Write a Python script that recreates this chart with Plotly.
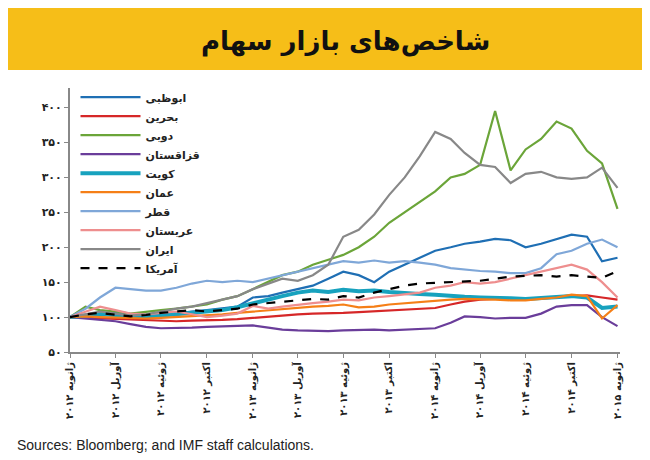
import plotly.graph_objects as go
import pandas as pd

dates = pd.date_range("2012-01-01", "2015-01-01", freq="MS")

abudhabi = [100,103,105,106,104,102,103,105,108,110,112,115,128,130,135,140,145,155,165,160,150,165,175,185,195,200,205,208,212,210,200,205,212,218,215,180,185]
bahrain = [100,99,98,97,96,95,94,94,95,95,96,97,99,100,102,104,105,105,106,107,108,110,111,112,113,118,122,125,126,127,126,127,128,130,131,128,125]
dubai = [100,115,110,108,105,108,110,112,115,118,125,130,140,150,160,165,175,182,189,200,215,235,250,265,280,300,305,318,395,310,340,355,380,370,338,320,255]
kazakh = [100,98,96,94,90,86,84,84,85,86,87,88,88,85,82,81,80,80,81,82,82,81,82,84,84,92,101,100,98,99,99,105,115,117,117,100,87]
kuwait = [100,102,104,103,100,100,102,104,106,108,110,114,120,125,130,135,138,136,139,137,138,136,134,133,132,130,129,128,128,127,126,127,128,130,128,113,115]
oman = [100,101,100,99,98,98,99,100,102,103,104,106,108,110,112,113,115,116,118,114,115,118,120,122,123,125,126,126,125,124,124,126,128,132,130,98,117]
qatar = [100,112,128,142,140,138,138,142,148,152,150,152,150,155,160,165,170,175,180,178,181,178,180,178,175,170,168,166,165,163,163,170,190,195,205,211,200]
saudi = [100,108,115,110,105,104,106,108,104,100,102,105,116,112,115,118,120,122,125,124,128,130,132,135,142,145,150,148,150,155,160,165,170,175,168,150,128]
iran = [100,104,108,105,102,104,108,112,115,120,125,130,140,148,155,152,160,175,215,225,247,275,300,330,365,355,335,318,315,292,305,308,300,298,300,314,285]
usa = [100,104,106,104,101,103,106,108,110,108,110,112,118,120,122,124,126,125,130,128,135,140,145,148,149,150,150,152,155,158,159,160,158,160,158,156,166]

series = [
    ("ابوظبی", abudhabi, "#1F6FB4", 2.2, "solid"),
    ("بحرین", bahrain, "#D62728", 2.2, "solid"),
    ("دوبی", dubai, "#6BA539", 2.2, "solid"),
    ("قزاقستان", kazakh, "#6A3D9A", 2.2, "solid"),
    ("کویت", kuwait, "#17A2BE", 4, "solid"),
    ("عمان", oman, "#F57F17", 2.2, "solid"),
    ("قطر", qatar, "#7FA7D8", 2.2, "solid"),
    ("عربستان", saudi, "#EE8E8E", 2.2, "solid"),
    ("ایران", iran, "#888888", 2.2, "solid"),
    ("آمریکا", usa, "#000000", 2.2, "dash"),
]

fa = str.maketrans("0123456789", "۰۱۲۳۴۵۶۷۸۹")
months = {1: "ژانویه", 4: "آوریل", 7: "ژوئیه", 10: "اکتبر"}
tickdates = [d for d in dates if d.month in months]
ticktext = [f"<b>{months[d.month]} {str(d.year).translate(fa)}</b>" for d in tickdates]
yvals = [50, 100, 150, 200, 250, 300, 350, 400]
ytext = [f"<b>{str(v).translate(fa)}</b>" for v in yvals]

fig = go.Figure()
for name, vals, col, w, dash in series:
    fig.add_trace(go.Scatter(x=dates, y=vals, name=f"<b>{name}</b>", mode="lines",
                             line=dict(color=col, width=w, dash=dash)))

fig.add_shape(type="rect", xref="paper", yref="paper", x0=-0.2, x1=1.2, y0=(460 - 62 - 116) / 264, y1=1.4,
              fillcolor="#F6BE18", line=dict(width=0), layer="below")
fig.add_annotation(text="<b>شاخص‌های بازار سهام</b>", xref="paper", yref="paper",
                   x=0.5, y=(460 - 33 - 116) / 264, yanchor="middle", showarrow=False,
                   font=dict(size=26, color="#111", family="DejaVu Sans"))
fig.add_annotation(text="Sources: Bloomberg; and IMF staff calculations.", xref="paper", yref="paper",
                   x=-0.1, xanchor="left", y=-0.39, showarrow=False, font=dict(size=14, color="#222", family="Liberation Sans"))

fig.update_layout(
    width=650, height=460, margin=dict(l=62, r=38, t=80, b=116, autoexpand=False),
    paper_bgcolor="white", plot_bgcolor="white", font=dict(family="DejaVu Sans", color="#222"),
    showlegend=True,
    legend=dict(x=0.01, y=1.02, xanchor="left", yanchor="top", bgcolor="rgba(0,0,0,0)",
                font=dict(size=11), tracegroupgap=0, itemwidth=60),
)
fig.update_xaxes(range=[dates[0], dates[-1] + pd.Timedelta(days=5)], tickvals=tickdates, ticktext=ticktext,
                 tickangle=-90, showgrid=False, showline=True, linecolor="#888", linewidth=2,
                 ticks="outside", tickcolor="#888", ticklen=4, tickfont=dict(size=10))
fig.update_yaxes(range=[50, 428], tickvals=yvals, ticktext=ytext, showgrid=False, showline=True,
                 linecolor="#888", linewidth=2, ticks="outside", tickcolor="#888", ticklen=4,
                 tickfont=dict(size=11), zeroline=False)
fig.write_html("out.html")
